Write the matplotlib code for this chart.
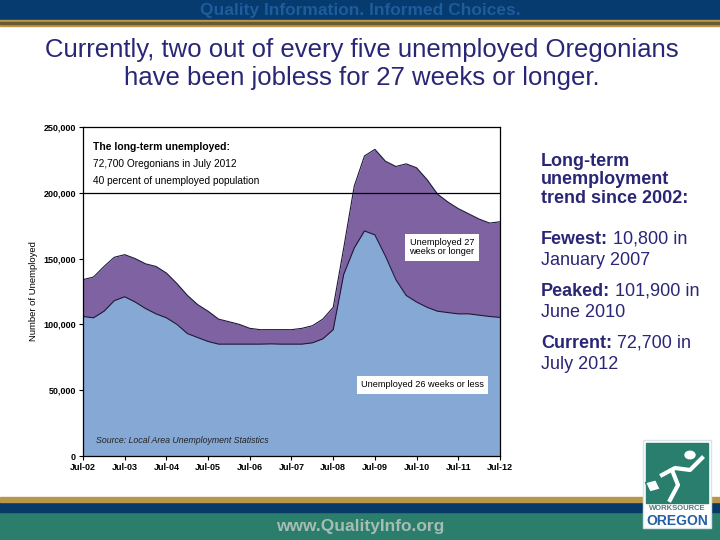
import numpy as np
import pandas as pd
import matplotlib
matplotlib.use("Agg")
import matplotlib.pyplot as plt
import matplotlib.dates as mdates
from matplotlib.patches import Rectangle, Circle
from matplotlib.lines import Line2D

plt.rcParams['font.family'] = ['Liberation Sans', 'DejaVu Sans']

# quarterly readings, Jul-2002 .. Jul-2012
dates = pd.date_range('2002-07-01', '2012-07-01', freq='3MS')
short_term = [106, 105, 110, 118, 121, 117, 112, 108, 105, 100, 93, 90, 87, 85, 85,
              85, 85, 85, 85.2, 85, 85, 85, 86, 89, 96, 138, 158, 171, 168, 152,
              134, 122, 117, 113, 110, 109, 108, 108, 107, 106, 105.3]
long_term = [28, 31, 34, 33, 32, 33, 34, 36, 34, 31, 29, 25, 23, 19, 17,
             15, 12, 11, 10.8, 11, 11, 12, 13, 15, 17, 20, 47, 57, 65, 72,
             86, 100, 102, 97, 89, 84, 80, 76, 73, 71, 72.7]
short_term = np.array(short_term) * 1000
long_term = np.array(long_term) * 1000
total = short_term + long_term

navy = '#2A2676'
blue = '#86A8D5'
purple = '#7F62A1'

fig = plt.figure(figsize=(7.2, 5.4), dpi=100)
fig.patch.set_facecolor('white')

def fx(px):
    return px / 720

def fy(py):
    return 1 - py / 540

# header / footer bands
fig.add_artist(Rectangle((0, fy(20)), 1, 20/540, transform=fig.transFigure, color='#053B6E', zorder=0))
fig.add_artist(Rectangle((0, fy(26)), 1, 6/540, transform=fig.transFigure, color='#B8964A', zorder=0))
fig.add_artist(Rectangle((0, fy(24)), 1, 2/540, transform=fig.transFigure, color='#6B5A30', zorder=0))
fig.text(0.5, fy(11), 'Quality Information. Informed Choices.', ha='center', va='center',
         color='#1F5C9C', fontsize=12.5, fontweight='bold')
fig.add_artist(Rectangle((0, 0), 1, 28/540, transform=fig.transFigure, color='#2B7D6C', zorder=0))
fig.add_artist(Rectangle((0, 28/540), 1, 10/540, transform=fig.transFigure, color='#073A66', zorder=0))
fig.add_artist(Rectangle((0, 38/540), 1, 5/540, transform=fig.transFigure, color='#B8964A', zorder=0))
fig.text(0.5, 13/540, 'www.QualityInfo.org', ha='center', va='center', color='#A6BCB4',
         fontsize=12.5, fontweight='bold')

# logo
fig.add_artist(Rectangle((fx(643), 12/540), 68/720, 88/540, transform=fig.transFigure,
                         facecolor='white', edgecolor='#D8E4E8', lw=1, zorder=1))
fig.add_artist(Rectangle((fx(646), 37/540), 62/720, 60/540, transform=fig.transFigure,
                         color='#2A7E6E', zorder=2))
fig.add_artist(Circle((fx(690), fy(455)), 5/720, transform=fig.transFigure, color='white', zorder=3))
fig.add_artist(Line2D([fx(662), fx(675), fx(690), fx(702)], [fy(475), fy(468), fy(470), fy(458)],
                      transform=fig.transFigure, color='white', lw=3, zorder=3))
fig.add_artist(Line2D([fx(672), fx(678), fx(670)], [fy(470), fy(485), fy(500)],
                      transform=fig.transFigure, color='white', lw=3, zorder=3))
fig.add_artist(Rectangle((fx(650), fy(492)), 11/720, 10/540, transform=fig.transFigure,
                         facecolor='white', edgecolor='#2A7E6E', angle=20, zorder=3))
fig.text(fx(677), 31/540, 'WORKSOURCE', ha='center', va='center', color='#4F7A80',
         fontsize=5.5, fontweight='bold', zorder=3)
fig.text(fx(677), 19/540, 'OREGON', ha='center', va='center', color='#2360A3',
         fontsize=10, fontweight='bold', zorder=3)

# title
fig.text(fx(362), fy(64),
         'Currently, two out of every five unemployed Oregonians\nhave been jobless for 27 weeks or longer.',
         ha='center', va='center', color=navy, fontsize=18.5, linespacing=1.18)

ax = fig.add_axes([fx(83), 84/540, 417/720, 329/540])
ax.fill_between(dates, 0, short_term, color=blue, lw=0)
ax.fill_between(dates, short_term, total, color=purple, lw=0)
ax.plot(dates, short_term, color='#1A1A3A', lw=0.8)
ax.plot(dates, total, color='#1A1A3A', lw=0.8)
ax.axhline(200000, color='black', lw=0.9)

ax.set_xlim(dates[0], dates[-1])
ax.set_ylim(0, 250000)
ax.set_yticks([0, 50000, 100000, 150000, 200000, 250000])
ax.set_yticklabels(['0', '50,000', '100,000', '150,000', '200,000', '250,000'])
ax.xaxis.set_major_locator(mdates.MonthLocator(bymonth=7))
ax.xaxis.set_major_formatter(mdates.DateFormatter('%b-%y'))
ax.tick_params(labelsize=6.5, length=3, width=0.8, pad=2)
for lbl in ax.get_xticklabels() + ax.get_yticklabels():
    lbl.set_fontweight('bold')
for s in ax.spines.values():
    s.set_linewidth(0.9)
ax.set_ylabel('Number of Unemployed', fontsize=6.8, labelpad=4)

ax.text(0.024, 0.94, 'The long-term unemployed:', transform=ax.transAxes, fontsize=7.5,
        fontweight='bold', va='center')
ax.text(0.024, 0.888, '72,700 Oregonians in July 2012', transform=ax.transAxes, fontsize=7.3, va='center')
ax.text(0.024, 0.836, '40 percent of unemployed population', transform=ax.transAxes, fontsize=7.3, va='center')
ax.text(0.783, 0.635, 'Unemployed 27\nweeks or longer', transform=ax.transAxes, fontsize=6.6,
        va='center', linespacing=1.1,
        bbox=dict(boxstyle='square,pad=0.45', facecolor='white', edgecolor='none'))
ax.text(0.667, 0.216, 'Unemployed 26 weeks or less', transform=ax.transAxes, fontsize=6.6,
        va='center', bbox=dict(boxstyle='square,pad=0.45', facecolor='white', edgecolor='none'))
ax.text(0.031, 0.046, 'Source: Local Area Unemployment Statistics', transform=ax.transAxes,
        fontsize=6.3, style='italic', va='center', color='#222222')

# right-hand notes
fig.text(fx(541), fy(180), 'Long-term\nunemployment\ntrend since 2002:', ha='left', va='center',
         color=navy, fontsize=13, fontweight='bold', linespacing=1.15)
fig.canvas.draw()
renderer = fig.canvas.get_renderer()
notes = [('Fewest:', ' 10,800 in', 'January 2007', 238),
         ('Peaked:', ' 101,900 in', 'June 2010', 290),
         ('Current:', ' 72,700 in', 'July 2012', 342)]
for head, rest, line2, ypix in notes:
    base = ypix + 6
    t = fig.text(fx(541), fy(base), head, ha='left', va='baseline', color=navy,
                 fontsize=13, fontweight='bold')
    bb = t.get_window_extent(renderer)
    fig.text(bb.x1 / fig.bbox.width, fy(base), rest, ha='left', va='baseline', color=navy, fontsize=13)
    fig.text(fx(541), fy(base + 21), line2, ha='left', va='baseline', color=navy, fontsize=13)

fig.savefig('out.png', dpi=100)
